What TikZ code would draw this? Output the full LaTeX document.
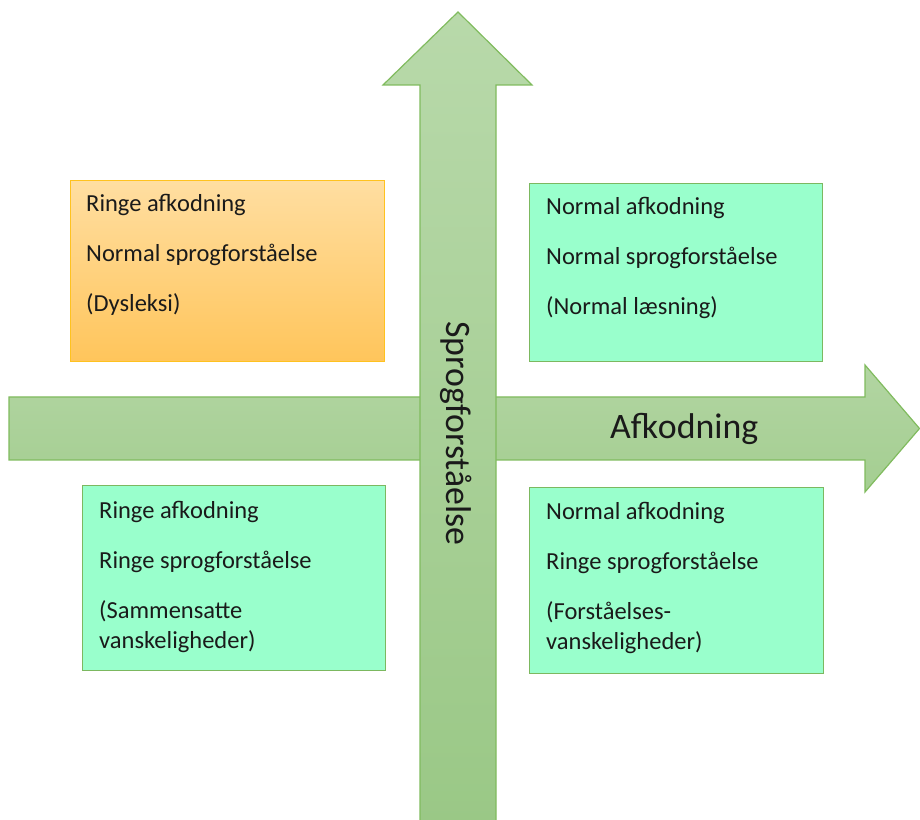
\documentclass[tikz,border=0pt]{standalone}
\usepackage{fontspec}
\setmainfont{Carlito}
\definecolor{arrline}{HTML}{80BB5E}
\definecolor{arrtop}{HTML}{B8D9AA}
\definecolor{arrbot}{HTML}{9AC886}
\definecolor{harrtop}{HTML}{B2D5A2}
\definecolor{harrbot}{HTML}{A4CE91}
\definecolor{orgtop}{HTML}{FFDEA1}
\definecolor{orgbot}{HTML}{FFC55B}
\definecolor{orgline}{HTML}{FFC21F}
\definecolor{mint}{HTML}{99FFCC}
\definecolor{mintline}{HTML}{7CB860}
\definecolor{txtcol}{HTML}{1A1A1A}
\begin{document}
\begin{tikzpicture}[x=1pt,y=1pt,
  boxbase/.style={rectangle, anchor=north west, inner sep=0pt, line width=1.2pt},
  greenbox/.style={boxbase, draw=mintline, fill=mint},
  orangebox/.style={boxbase, draw=orgline, top color=orgtop, bottom color=orgbot},
  txt/.style={anchor=base west, inner sep=0pt, font=\fontsize{24.5}{30}\selectfont, text=txtcol},
  bigtxt/.style={inner sep=0pt, font=\fontsize{35.8}{42}\selectfont, text=txtcol}]
\useasboundingbox (0,0) rectangle (920,819);
% horizontal arrow
\path[draw=arrline, line width=1.2pt, top color=harrtop, bottom color=harrbot, line join=miter]
  (9,422) -- (865,422) -- (865,454) -- (919.5,390.5) -- (865,327) -- (865,359) -- (9,359) -- cycle;
% vertical arrow
\path[draw=arrline, line width=1.2pt, top color=arrtop, bottom color=arrbot, line join=miter]
  (420,-5) -- (420,734) -- (383,734) -- (458,807) -- (532,734) -- (496,734) -- (496,-5) -- cycle;
% axis labels
\node[bigtxt, anchor=base west] (afk) at (610,380) {Afkodning};
\node[bigtxt, anchor=base, rotate=-90] (spr) at (446,385.5) {Sprogforståelse};
% boxes
\node[orangebox, minimum width=314pt, minimum height=181pt] (bo) at (70,639) {};
\node[greenbox, minimum width=293pt, minimum height=178pt] (btr) at (529,636) {};
\node[greenbox, minimum width=303pt, minimum height=185pt] (bbl) at (82,334) {};
\node[greenbox, minimum width=294pt, minimum height=186pt] (bbr) at (529,332) {};
% texts orange
\node[txt] (bo1) at (86,607) {Ringe afkodning};
\node[txt] (bo2) at (86,557) {Normal sprogforståelse};
\node[txt] (bo3) at (86,507) {(Dysleksi)};
% texts top right
\node[txt] (btr1) at (546,604) {Normal afkodning};
\node[txt] (btr2) at (546,554) {Normal sprogforståelse};
\node[txt] (btr3) at (546,504) {(Normal læsning)};
% texts bottom left
\node[txt] (bbl1) at (99,300) {Ringe afkodning};
\node[txt] (bbl2) at (99,250) {Ringe sprogforståelse};
\node[txt] (bbl3) at (99,200) {(Sammensatte};
\node[txt] (bbl4) at (99,170) {vanskeligheder)};
% texts bottom right
\node[txt] (bbr1) at (546,299) {Normal afkodning};
\node[txt] (bbr2) at (546,249) {Ringe sprogforståelse};
\node[txt] (bbr3) at (546,199) {(Forståelses-};
\node[txt] (bbr4) at (546,169) {vanskeligheder)};
\end{tikzpicture}
\end{document}
